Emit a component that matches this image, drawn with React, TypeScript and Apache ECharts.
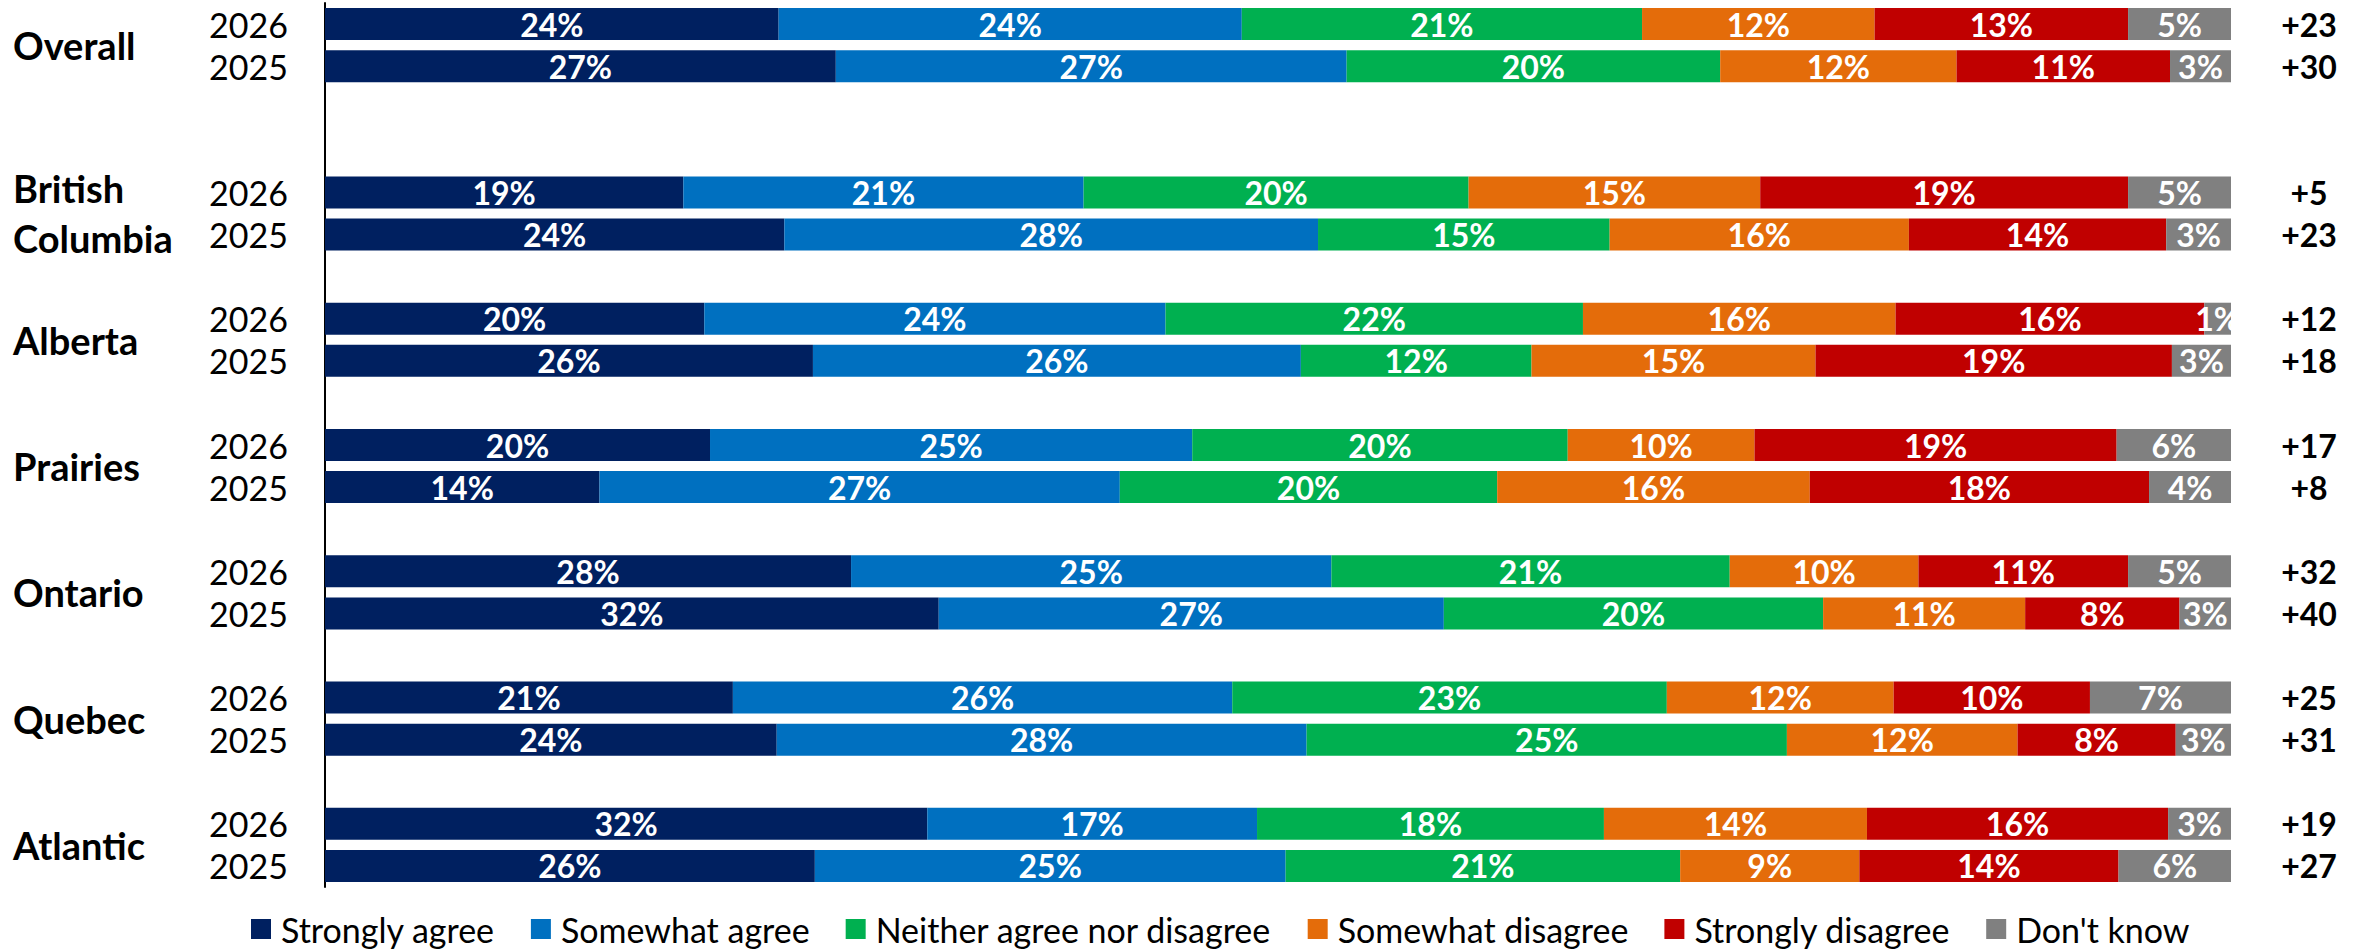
import React, { useEffect, useRef } from "react";
import * as echarts from "echarts";

const regions = ["Overall", "British\nColumbia", "Alberta", "Prairies", "Ontario", "Quebec", "Atlantic"];
const years = ["2026", "2025"];
const seriesNames = [
  "Strongly agree",
  "Somewhat agree",
  "Neither agree nor disagree",
  "Somewhat disagree",
  "Strongly disagree",
  "Don't know",
];
// rows: region x year (2026, 2025)
const stronglyAgree = [23.8, 26.8, 18.8, 24.1, 19.9, 25.6, 20.2, 14.4, 27.6, 32.2, 21.4, 23.7, 31.6, 25.7];
const somewhatAgree = [24.3, 26.8, 21.0, 28.0, 24.2, 25.6, 25.3, 27.3, 25.2, 26.5, 26.2, 27.8, 17.3, 24.7];
const neither = [21.0, 19.6, 20.2, 15.3, 21.9, 12.1, 19.7, 19.8, 20.9, 19.9, 22.8, 25.2, 18.2, 20.7];
const somewhatDisagree = [12.2, 12.4, 15.3, 15.7, 16.4, 14.9, 9.8, 16.4, 9.9, 10.6, 11.9, 12.1, 13.8, 9.4];
const stronglyDisagree = [13.3, 11.2, 19.3, 13.5, 16.2, 18.7, 19.0, 17.8, 11.0, 8.1, 10.3, 8.3, 15.8, 13.6];
const dontKnow = [5.4, 3.2, 5.4, 3.4, 1.4, 3.1, 6.0, 4.3, 5.4, 2.7, 7.4, 2.9, 3.3, 5.9];
const netScores = ["+23", "+30", "+5", "+23", "+12", "+18", "+17", "+8", "+32", "+40", "+25", "+31", "+19", "+27"];
// blank rows after each region group
const gapsAfter = [2, 1, 1, 1, 1, 1, 0];

const colors = ["#002060", "#0070C0", "#00B050", "#E46C0A", "#C00000", "#808080"];
const FONT = "Lato, 'Open Sans', sans-serif";

export default function App() {
  const ref = useRef<HTMLDivElement>(null);
  useEffect(() => {
    if (!ref.current) return;
    const chart = echarts.init(ref.current, null, { renderer: "svg" });

    const slotRow: number[] = [];
    const slotIds: string[] = [];
    const groupCenters: number[] = [];
    let gapN = 0;
    regions.forEach((r, ri) => {
      groupCenters.push(slotRow.length + 0.5);
      years.forEach((y, yi) => {
        slotRow.push(ri * 2 + yi);
        slotIds.push(ri + "|" + y);
      });
      for (let g = 0; g < gapsAfter[ri]; g++) {
        slotRow.push(-1);
        slotIds.push("gap" + gapN++);
      }
    });
    const values = [stronglyAgree, somewhatAgree, neither, somewhatDisagree, stronglyDisagree, dontKnow];
    const nSlots = slotIds.length;

    const series = values.map((arr, si) => ({
      name: seriesNames[si],
      type: "bar",
      stack: "total",
      barWidth: 32,
      yAxisIndex: 0,
      itemStyle: { color: colors[si] },
      label: {
        show: true,
        position: "inside",
        color: "#ffffff",
        fontWeight: "bold",
        fontSize: 32,
        fontFamily: FONT,
        formatter: (p: any) => Math.round(p.value) + "%",
      },
      data: slotRow.map((r) => (r < 0 ? "-" : arr[r])),
    }));

    chart.setOption({
      animation: false,
      backgroundColor: "#ffffff",
      grid: { left: 325, right: 125, top: 3, height: 884 },
      xAxis: { type: "value", min: 0, max: 100, show: false },
      yAxis: [
        {
          type: "category",
          data: slotIds,
          inverse: true,
          position: "left",
          axisLine: { show: true, lineStyle: { color: "#000", width: 2 } },
          axisTick: { show: false },
          splitLine: { show: false },
          axisLabel: {
            interval: 0,
            margin: 37,
            fontSize: 34,
            fontFamily: FONT,
            color: "#000",
            formatter: (v: string) => (v.startsWith("gap") ? "" : v.split("|")[1]),
          },
        },
        {
          type: "value",
          min: -0.5,
          max: nSlots - 0.5,
          inverse: true,
          position: "left",
          axisLine: { show: false },
          axisTick: { show: false },
          splitLine: { show: false },
          axisLabel: {
            customValues: groupCenters,
            margin: 312,
            align: "left",
            fontSize: 38,
            fontWeight: "bold",
            lineHeight: 50,
            fontFamily: FONT,
            color: "#000",
            formatter: (v: number) => {
              const i = groupCenters.indexOf(v);
              return i >= 0 ? regions[i] : "";
            },
          },
        },
        {
          type: "category",
          data: slotIds,
          inverse: true,
          position: "right",
          axisLine: { show: false },
          axisTick: { show: false },
          splitLine: { show: false },
          axisLabel: {
            interval: 0,
            margin: 78,
            align: "center",
            fontSize: 32,
            fontWeight: "bold",
            fontFamily: FONT,
            color: "#000",
            formatter: (v: string) => {
              const i = slotIds.indexOf(v);
              const r = slotRow[i];
              return r < 0 ? "" : netScores[r];
            },
          },
        },
      ],
      legend: {
        data: seriesNames,
        left: 246,
        top: 906,
        icon: "rect",
        itemWidth: 20,
        itemHeight: 20,
        itemGap: 36,
        textStyle: {
          fontSize: 34,
          lineHeight: 36,
          fontFamily: FONT,
          color: "#000",
          padding: [0, 0, 0, 5],
        },
      },
      series,
    });
    return () => chart.dispose();
  }, []);
  return (
    <div
      ref={ref}
      style={{ position: "fixed", left: 0, top: 0, width: 2356, height: 950, background: "#fff" }}
    />
  );
}
